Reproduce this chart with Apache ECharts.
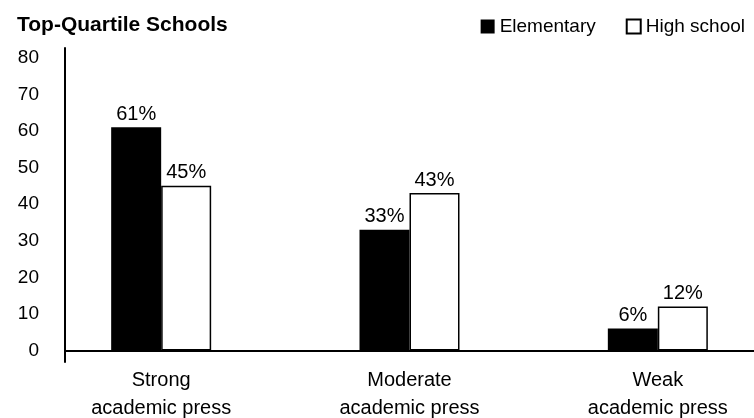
<!DOCTYPE html>
<html>
<head>
<meta charset="utf-8">
<script src="https://cdn.jsdelivr.net/npm/echarts@6/dist/echarts.min.js"></script>
<style>
html,body{margin:0;padding:0;background:#fff;}
#c{width:754px;height:418px;}
</style>
</head>
<body>
<div id="c"></div>
<script>
const categories = ['Strong\nacademic press', 'Moderate\nacademic press', 'Weak\nacademic press'];
const elementary = [61, 33, 6];
const highSchool = [45, 43, 12];
const yTicks = [0, 10, 20, 30, 40, 50, 60, 70, 80];
const seriesNames = ['Elementary', 'High school'];

const FONT = '"Liberation Sans", Arial, sans-serif';
const yMin = -3.14, yMax = 82.65;

const chart = echarts.init(document.getElementById('c'), null, {renderer: 'canvas'});
chart.setOption({
  animation: false,
  backgroundColor: '#fff',
  textStyle: {fontFamily: FONT, color: '#000'},
  title: {
    text: 'Top-Quartile Schools',
    left: 12, top: 10,
    textStyle: {fontFamily: FONT, fontWeight: 'bold', fontSize: 21, color: '#000'}
  },
  legend: {
    right: 4, top: 12,
    itemWidth: 14, itemHeight: 14, itemGap: 30,
    icon: 'rect',
    textStyle: {fontFamily: FONT, fontSize: 19, color: '#000'},
    data: seriesNames
  },
  grid: [
    {left: 37, width: 745, top: 48, bottom: 56, outerBoundsMode: 'none', containLabel: false},
    {left: 65, right: 0, top: 48, bottom: 56, outerBoundsMode: 'none', containLabel: false}
  ],
  xAxis: [
    {
      type: 'category', gridIndex: 0, data: categories,
      axisLine: {show: false}, axisTick: {show: false},
      axisLabel: {fontFamily: FONT, fontSize: 20, color: '#000', lineHeight: 28, margin: 4}
    },
    {
      type: 'value', gridIndex: 1, min: 0, max: 1,
      axisLine: {show: true, onZero: true, lineStyle: {color: '#000', width: 2}},
      axisTick: {show: false}, axisLabel: {show: false}, splitLine: {show: false}
    }
  ],
  yAxis: [
    {
      type: 'value', gridIndex: 0, min: yMin, max: yMax, show: false
    },
    {
      type: 'value', gridIndex: 1, min: yMin, max: yMax,
      axisLine: {show: true, lineStyle: {color: '#000', width: 2}},
      axisTick: {show: false}, splitLine: {show: false},
      axisLabel: {
        customValues: yTicks,
        fontFamily: FONT, fontSize: 19, color: '#000', margin: 26
      }
    }
  ],
  series: [
    {
      name: seriesNames[0], type: 'bar', xAxisIndex: 0, yAxisIndex: 0,
      data: elementary, barWidth: 50, barGap: '0%',
      itemStyle: {color: '#000', borderColor: '#000', borderWidth: 0},
      label: {show: true, position: 'top', distance: 3, formatter: '{c}%',
        fontFamily: FONT, fontSize: 20, color: '#000'}
    },
    {
      name: seriesNames[1], type: 'bar', xAxisIndex: 0, yAxisIndex: 0,
      data: highSchool, barWidth: 50, barGap: '0%',
      itemStyle: {color: '#fff', borderColor: '#000', borderWidth: 1.5},
      label: {show: true, position: 'top', distance: 3, formatter: '{c}%',
        fontFamily: FONT, fontSize: 20, color: '#000'}
    }
  ]
});
</script>
</body>
</html>
